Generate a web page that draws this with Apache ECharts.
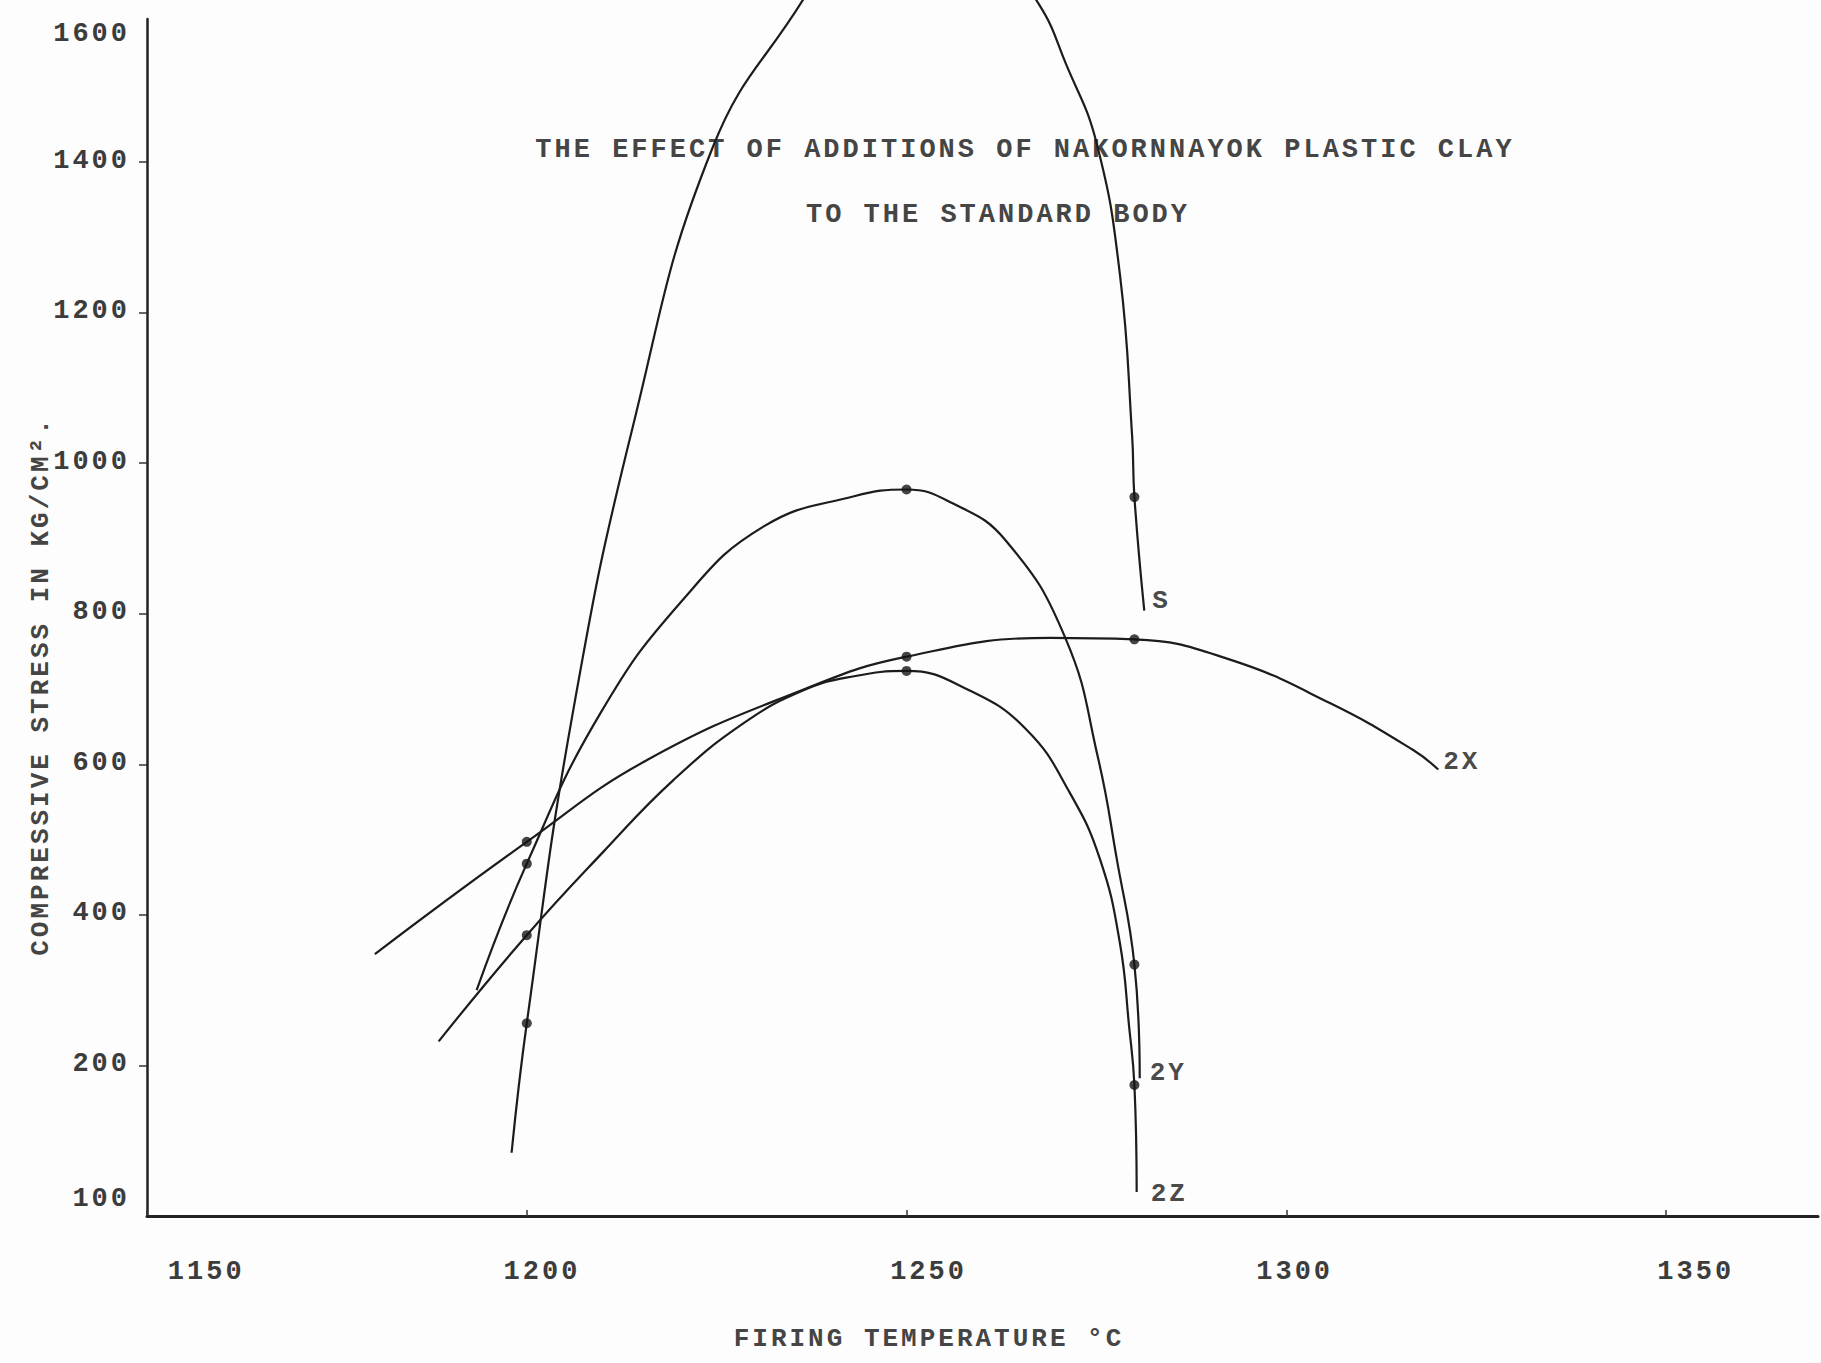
<!DOCTYPE html>
<html>
<head>
<meta charset="utf-8">
<script src="https://cdn.jsdelivr.net/npm/echarts@6/dist/echarts.min.js"></script>
<style>
html,body{margin:0;padding:0;background:#fdfdfd;}
#main{width:1821px;height:1363px;}
#main text{letter-spacing:3px;}
</style>
</head>
<body>
<div id="main"></div>
<script>
// ---- tick labels ----
const xTickValues = [1150, 1200, 1250, 1300, 1350];
const xTickLabels = ['1150', '1200', '1250', '1300', '1350'];
const yTickValues = [100, 200, 400, 600, 800, 1000, 1200, 1400, 1600];
const yTickLabels = ['100', '200', '400', '600', '800', '1000', '1200', '1400', '1600'];

// temperatures at which measured points (dots) were plotted
const measuredTemps = [1200, 1250, 1280];

// ---- series: firing temperature (°C) and compressive stress (kg/cm2) ----
const S_temp   = [1198.0, 1200, 1206, 1214, 1224.5, 1236.4, 1251, 1267.4, 1271, 1275.0, 1278.1, 1279.7, 1280, 1281.3];
const S_stress = [84, 256, 665, 1050, 1420, 1616, 1850, 1610, 1530, 1426, 1250, 1036, 955, 804];

const X2_temp   = [1180.0, 1200, 1215.9, 1236.6, 1250, 1268.9, 1280, 1292.6, 1305.8, 1316.7, 1320.0];
const X2_stress = [348, 497, 606, 700, 743, 768, 766, 739, 681, 619, 593];

const Y2_temp   = [1193.4, 1200, 1209.7, 1220.5, 1231.2, 1243.1, 1250, 1256.0, 1263.0, 1270.9, 1275.2, 1277.7, 1280, 1280.7];
const Y2_stress = [300, 468, 668, 818, 916, 956, 965, 947, 898, 768, 609, 473, 334, 183];

const Z2_temp   = [1188.4, 1200, 1210.1, 1219.3, 1228.6, 1236.6, 1243.1, 1250, 1258.1, 1265.8, 1271.5, 1275.5, 1278.1, 1279.3, 1280, 1280.3];
const Z2_stress = [232, 373, 484, 579, 655, 699, 717, 724, 699, 646, 562, 473, 362, 252, 174, 32];

// ---- styling / layout ----
const FONT = "'Liberation Mono', 'DejaVu Sans Mono', monospace";
const INK = '#1c1c1c';
const TYPE = '#3c3c3c';

const curves = [
  { name: 'S',  t: S_temp,  v: S_stress,  off: [3, -10] },
  { name: '2X', t: X2_temp, v: X2_stress, off: [0, -8] },
  { name: '2Y', t: Y2_temp, v: Y2_stress, off: [5, -5] },
  { name: '2Z', t: Z2_temp, v: Z2_stress, off: [9, 2] }
];

// typed label placement (the typist's labels sit slightly off their ticks)
const xLabelShift = [7.8, 2.0, 2.9, 1.1, 3.9];
const xLabelAt = xTickValues.map((v, i) => v + xLabelShift[i]);
const yLabelAt = yTickValues.map(v => v === 100 ? 23 : (v === 1600 ? 1570 : v + 2));
const yTickMarks = yTickValues.filter(v => v >= 200 && v <= 1400);

function nearestIdx(arr, v) {
  let best = 0;
  arr.forEach((a, i) => { if (Math.abs(a - v) < Math.abs(arr[best] - v)) best = i; });
  return best;
}

const lineSeries = curves.map(c => ({
  type: 'line',
  name: c.name,
  data: c.t.map((t, i) => [t, c.v[i]]),
  smooth: 0.45,
  symbol: 'none',
  showSymbol: false,
  clip: false,
  silent: true,
  lineStyle: { color: INK, width: 2.2 },
  endLabel: {
    show: true,
    formatter: c.name,
    distance: 5,
    offset: c.off,
    color: '#4a4a4a',
    fontFamily: FONT,
    fontWeight: 'bold',
    fontSize: 26
  }
}));

const dots = [];
curves.forEach(c => c.t.forEach((t, i) => {
  if (measuredTemps.includes(t)) dots.push([t, c.v[i]]);
}));

const option = {
  backgroundColor: '#fdfdfd',
  animation: false,
  grid: { left: 147, right: 3, top: 19, bottom: 147, outerBoundsMode: 'none', containLabel: false },
  xAxis: {
    type: 'value',
    min: 1150,
    max: 1370,
    splitLine: { show: false },
    axisLine: { show: true, lineStyle: { color: '#222', width: 3 } },
    axisTick: { show: true, inside: true, length: 6, customValues: xTickValues, lineStyle: { color: '#333', width: 1.5 } },
    axisLabel: {
      customValues: xLabelAt,
      formatter: v => xTickLabels[nearestIdx(xLabelAt, v)],
      margin: 42,
      color: TYPE,
      fontFamily: FONT,
      fontWeight: 'bold',
      fontSize: 27
    }
  },
  yAxis: {
    type: 'value',
    min: 0,
    max: 1590,
    splitLine: { show: false },
    axisLine: { show: true, lineStyle: { color: '#222', width: 2.5 } },
    axisTick: { show: true, length: 8, customValues: yTickMarks, lineStyle: { color: '#333', width: 1.5 } },
    axisLabel: {
      customValues: yLabelAt,
      formatter: v => yTickLabels[nearestIdx(yLabelAt, v)],
      margin: 17,
      color: TYPE,
      fontFamily: FONT,
      fontWeight: 'bold',
      fontSize: 27
    }
  },
  graphic: [
    { type: 'text', x: 1025, y: 150, silent: true,
      style: { text: 'THE EFFECT OF ADDITIONS OF NAKORNNAYOK PLASTIC CLAY', font: "bold 27px " + FONT, fill: '#454545',
               align: 'center', verticalAlign: 'middle', textAlign: 'center', textVerticalAlign: 'middle' } },
    { type: 'text', x: 998, y: 215, silent: true,
      style: { text: 'TO THE STANDARD BODY', font: "bold 27px " + FONT, fill: '#454545',
               align: 'center', verticalAlign: 'middle', textAlign: 'center', textVerticalAlign: 'middle' } },
    { type: 'text', x: 929, y: 1339, silent: true,
      style: { text: 'FIRING TEMPERATURE °C', font: "bold 26px " + FONT, fill: '#454545',
               align: 'center', verticalAlign: 'middle', textAlign: 'center', textVerticalAlign: 'middle' } },
    { type: 'text', x: 41, y: 686, rotation: Math.PI / 2, silent: true,
      style: { text: 'COMPRESSIVE STRESS IN KG/CM².', font: "bold 26px " + FONT, fill: '#454545',
               align: 'center', verticalAlign: 'middle', textAlign: 'center', textVerticalAlign: 'middle' } }
  ],
  series: lineSeries.concat([{
    type: 'scatter',
    name: 'measured',
    data: dots,
    symbol: 'circle',
    symbolSize: 10,
    clip: false,
    silent: true,
    z: 5,
    itemStyle: { color: '#151515' }
  }])
};

const chart = echarts.init(document.getElementById('main'), null, { renderer: 'svg', width: 1821, height: 1363 });
chart.setOption(option);
</script>
</body>
</html>
